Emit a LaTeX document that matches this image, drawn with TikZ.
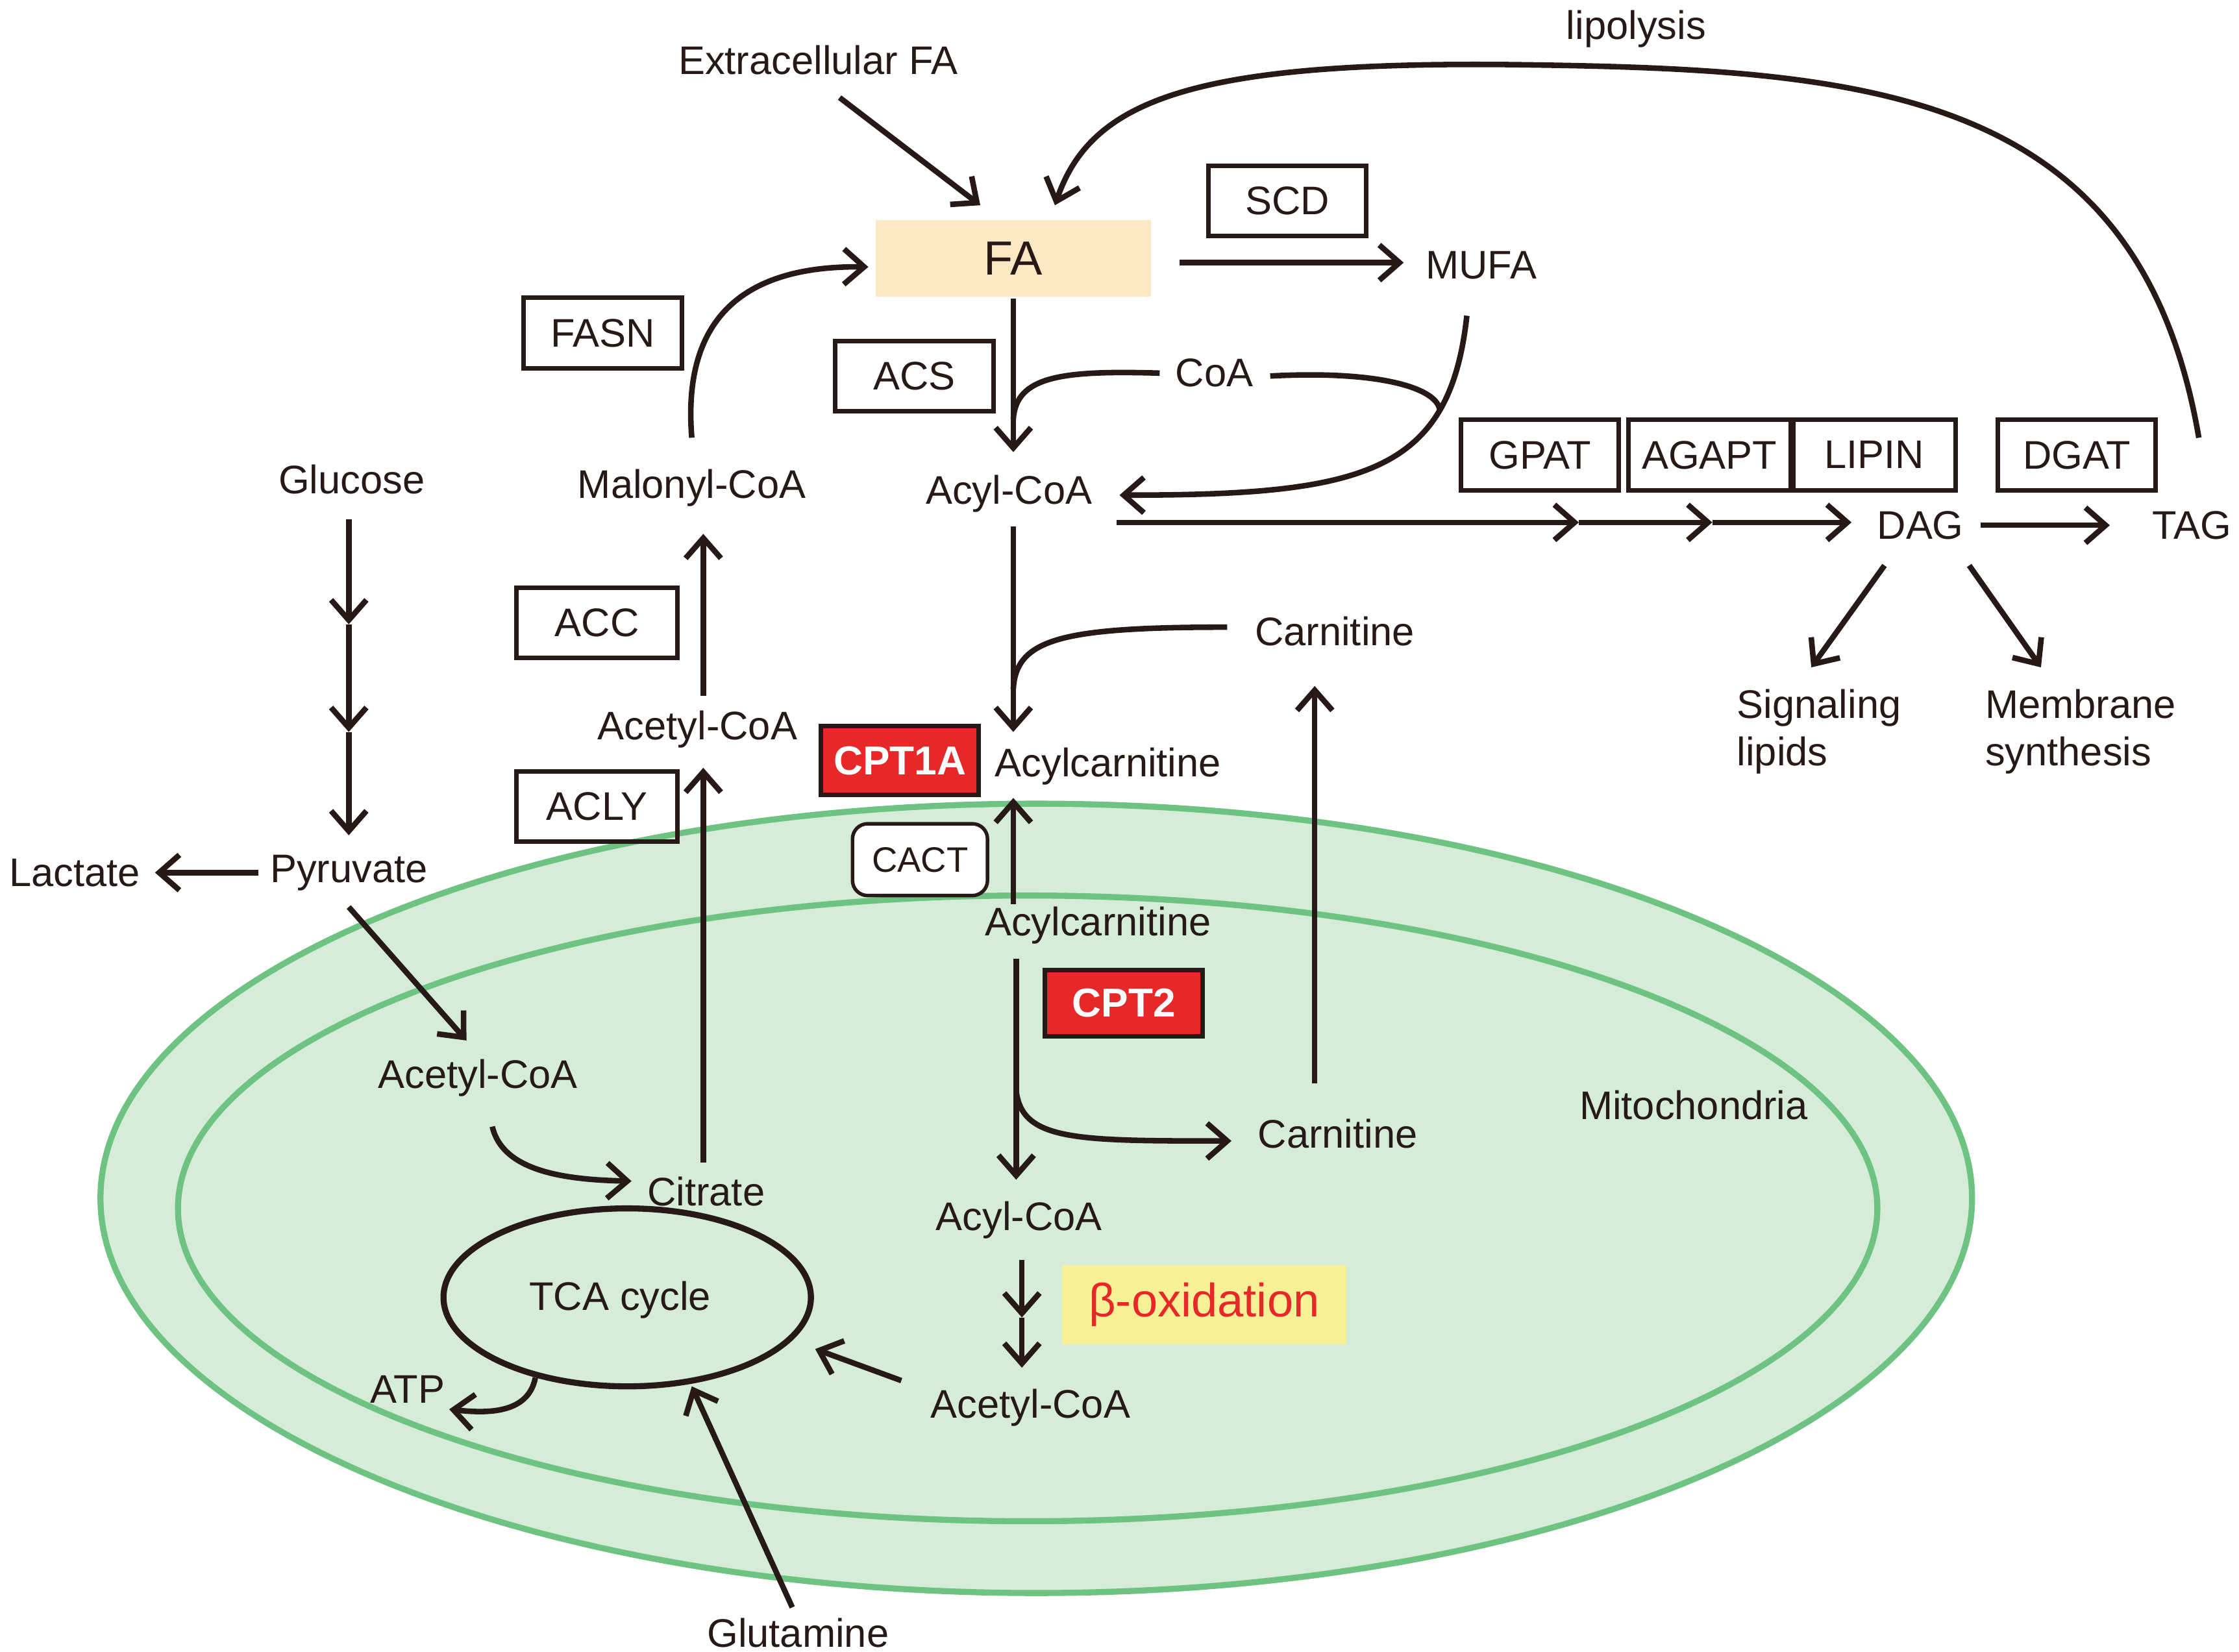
\documentclass[tikz,border=0pt]{standalone}
\usepackage{fontspec}
\setmainfont{Liberation Sans}
\usetikzlibrary{arrows.meta}
\definecolor{ink}{RGB}{40,25,25}
\definecolor{mitofill}{RGB}{212,236,216}
\definecolor{mitoline}{RGB}{110,195,130}
\definecolor{fabox}{RGB}{253,232,196}
\definecolor{betabox}{RGB}{248,240,150}
\definecolor{cptred}{RGB}{230,40,40}
\begin{document}
\begin{tikzpicture}[x=0.01cm,y=-0.01cm,
  every node/.style={font=\fontsize{7.9}{9.4}\selectfont,text=ink,inner sep=1pt},
  arr/.style={draw=ink,line width=1.1pt,-{Straight Barb[length=4pt,width=7pt,line width=1.1pt]}},
  ln/.style={draw=ink,line width=1.1pt},
  red/.style={fill=cptred,draw=ink,line width=0.9pt,text=white,font=\fontsize{8}{9}\selectfont\bfseries,inner sep=0pt}]
\useasboundingbox (0,0) rectangle (1560,1151);
% mitochondria
\draw[mitoline,line width=1.2pt,fill=mitofill] (722,835) ellipse [x radius=652,y radius=275];
\draw[mitoline,line width=1.2pt] (716,842) ellipse [x radius=592,y radius=218];
\node (mito) at (1180,770) {Mitochondria};
% boxes
\node[fill=fabox,minimum width=1.92cm,minimum height=0.53cm,font=\fontsize{9.5}{10}\selectfont] (FA) at (706,180) {FA};
\node[draw=ink,line width=0.9pt,minimum width=1.1cm,minimum height=0.49cm] (SCD) at (897,140) {SCD};
\node[draw=ink,line width=0.9pt,minimum width=1.1cm,minimum height=0.49cm] (FASN) at (420,232) {FASN};
\node[draw=ink,line width=0.9pt,minimum width=1.1cm,minimum height=0.49cm] (ACS) at (637,262) {ACS};
\node[draw=ink,line width=0.9pt,minimum width=1.1cm,minimum height=0.49cm] (GPAT) at (1073,317) {GPAT};
\node[draw=ink,line width=0.9pt,minimum width=1.13cm,minimum height=0.49cm] (AGAPT) at (1191,317) {AGAPT};
\node[draw=ink,line width=0.9pt,minimum width=1.13cm,minimum height=0.49cm] (LIPIN) at (1306,317) {LIPIN};
\node[draw=ink,line width=0.9pt,minimum width=1.1cm,minimum height=0.49cm] (DGAT) at (1447,317) {DGAT};
\node[draw=ink,line width=0.9pt,minimum width=1.12cm,minimum height=0.49cm] (ACC) at (416,434) {ACC};
\node[draw=ink,line width=0.9pt,minimum width=1.12cm,minimum height=0.49cm] (ACLY) at (416,562) {ACLY};
\node[red,minimum width=1.1cm,minimum height=0.48cm] (CPT1A) at (627,530) {CPT1A};
\node[red,minimum width=1.1cm,minimum height=0.46cm] (CPT2) at (783,699) {CPT2};
\node[draw=ink,line width=0.7pt,fill=white,rounded corners=3pt,minimum width=0.94cm,minimum height=0.5cm,font=\fontsize{7}{8}\selectfont] (CACT) at (641,599) {CACT};
\node[fill=betabox,minimum width=1.98cm,minimum height=0.55cm,text=cptred,font=\fontsize{9.3}{10}\selectfont] (beta) at (839,909) {β-oxidation};
% texts
\node (exFA) at (570,42) {Extracellular FA};
\node (lipo) at (1140,20) {lipolysis};
\node (MUFA) at (1032,185) {MUFA};
\node (CoA) at (846,260) {CoA};
\node (acyl1) at (703,344) {Acyl-CoA};
\node (malo) at (482,340) {Malonyl-CoA};
\node (DAG) at (1338,366) {DAG};
\node (TAG) at (1527,366) {TAG};
\node[align=left,anchor=north west] (sig) at (1206,476) {Signaling\\lipids};
\node[align=left,anchor=north west] (mem) at (1379,476) {Membrane\\synthesis};
\node (glc) at (245,334) {Glucose};
\node (pyr) at (243,608) {Pyruvate};
\node (lac) at (52,608) {Lactate};
\node (acm) at (333,751) {Acetyl-CoA};
\node (cit) at (492,830) {Citrate};
\node (acc) at (486,508) {Acetyl-CoA};
\node (carn1) at (930,440) {Carnitine};
\node (acar1) at (772,534) {Acylcarnitine};
\node (acar2) at (765,645) {Acylcarnitine};
\node (carn2) at (932,790) {Carnitine};
\node (acyl2) at (710,850) {Acyl-CoA};
\node (acb) at (718,981) {Acetyl-CoA};
\node (atp) at (284,968) {ATP};
\node (gln) at (556,1138) {Glutamine};
\draw[ink,line width=1.2pt] (437,904) ellipse [x radius=128,y radius=62];
\node (tca) at (432,906) {TCA cycle};
% arrows
\draw[arr] (585,68) -- (683,143);
\draw[arr] (1532,305) .. controls (1490,60) and (1300,48) .. (1050,45) .. controls (830,43) and (760,70) .. (735,143);
\draw[arr] (822,183) -- (978,183);
\draw[arr] (482,305) .. controls (475,220) and (520,185) .. (605,186);
\draw[arr] (706,208) -- (706,315);
\draw[ln] (808,260) .. controls (740,258) and (708,262) .. (706,292);
\draw[ln] (885,262) .. controls (960,258) and (1000,270) .. (1003,285);
\draw[arr] (1022,220) .. controls (1010,330) and (950,345) .. (780,345);
\draw[arr] (778,364) -- (1100,364);
\draw[arr] (1100,364) -- (1193,364);
\draw[arr] (1193,364) -- (1290,364);
\draw[arr] (1380,366) -- (1470,366);
\draw[arr] (1313,394) -- (1262,465);
\draw[arr] (1372,394) -- (1422,465);
\draw[arr] (243,362) -- (243,435);
\draw[arr] (243,435) -- (243,510);
\draw[arr] (243,510) -- (243,582);
\draw[arr] (180,608) -- (108,608);
\draw[arr] (243,632) -- (325,725);
\draw[arr] (343,785) .. controls (350,815) and (390,822) .. (440,823);
\draw[arr] (490,810) -- (490,535);
\draw[arr] (490,485) -- (490,372);
\draw[arr] (373,960) .. controls (368,985) and (340,985) .. (313,982);
\draw[arr] (552,1120) -- (482,966);
\draw[arr] (628,962) -- (568,940);
\draw[arr] (712,878) -- (712,918);
\draw[arr] (712,918) -- (712,953);
\draw[arr] (706,367) -- (706,510);
\draw[ln] (855,437) .. controls (740,437) and (708,445) .. (706,480);
\draw[arr,{Straight Barb[length=4pt,width=7pt,line width=1.1pt]}-] (706,556) -- (706,630);
\draw[arr] (708,668) -- (708,822);
\draw[arr] (708,760) .. controls (712,795) and (750,795) .. (858,795);
\draw[arr] (916,755) -- (916,478);
\end{tikzpicture}
\end{document}
